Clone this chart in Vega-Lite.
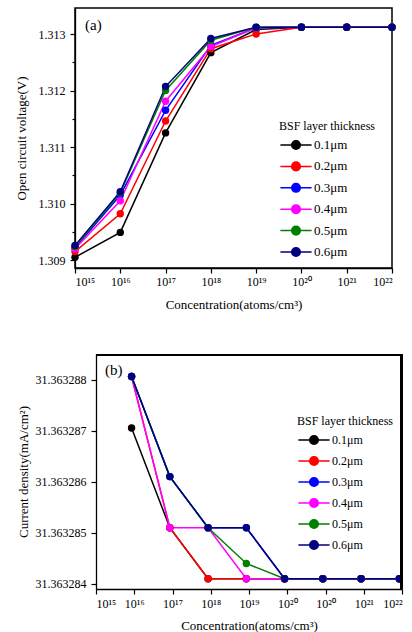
{
  "$schema": "https://vega.github.io/schema/vega-lite/v6.json",
  "padding": {"left": 14, "top": 7, "right": 0, "bottom": 0},
  "spacing": 41,
  "config": {
    "font": "Liberation Serif",
    "view": {"stroke": "#000000", "strokeWidth": 1.5},
    "axis": {
      "domainColor": "#000000", "domainWidth": 1.3,
      "tickColor": "#000000", "tickWidth": 1.2, "tickSize": 5,
      "labelFont": "Liberation Serif", "titleFont": "Liberation Serif",
      "labelColor": "#000000", "labelFontSize": 12, "labelPadding": 3,
      "titleColor": "#000000", "titleFontSize": 13, "titleFontWeight": "normal",
      "grid": false
    },
    "legend": {
      "labelFont": "Liberation Serif", "titleFont": "Liberation Serif",
      "titleFontSize": 12, "titleFontWeight": "normal", "titleColor": "#000000",
      "labelFontSize": 13, "labelColor": "#000000",
      "symbolType": "M-2.6,0H2.6M-0.72,0A0.72,0.72,0,1,1,0.72,0A0.72,0.72,0,1,1,-0.72,0Z",
      "symbolSize": 144, "symbolStrokeWidth": 1.5, "symbolOffset": 10,
      "rowPadding": 5, "labelOffset": 11, "titlePadding": 5
    },
    "title": {"font": "Liberation Serif", "fontSize": 15, "fontWeight": "normal", "color": "#000000", "anchor": "start", "frame": "group"}
  },
  "datasets": {
    "voc": [
      {"thickness": "0.1μm", "log_conc": 15, "voc": 1.30905},
      {"thickness": "0.1μm", "log_conc": 16, "voc": 1.30949},
      {"thickness": "0.1μm", "log_conc": 17, "voc": 1.31125},
      {"thickness": "0.1μm", "log_conc": 18, "voc": 1.31267},
      {"thickness": "0.1μm", "log_conc": 19, "voc": 1.31308},
      {"thickness": "0.1μm", "log_conc": 20, "voc": 1.31312},
      {"thickness": "0.1μm", "log_conc": 21, "voc": 1.31312},
      {"thickness": "0.1μm", "log_conc": 22, "voc": 1.31312},
      {"thickness": "0.2μm", "log_conc": 15, "voc": 1.30915},
      {"thickness": "0.2μm", "log_conc": 16, "voc": 1.30982},
      {"thickness": "0.2μm", "log_conc": 17, "voc": 1.31146},
      {"thickness": "0.2μm", "log_conc": 18, "voc": 1.31274},
      {"thickness": "0.2μm", "log_conc": 19, "voc": 1.31300},
      {"thickness": "0.2μm", "log_conc": 20, "voc": 1.31312},
      {"thickness": "0.2μm", "log_conc": 21, "voc": 1.31312},
      {"thickness": "0.2μm", "log_conc": 22, "voc": 1.31312},
      {"thickness": "0.3μm", "log_conc": 15, "voc": 1.30922},
      {"thickness": "0.3μm", "log_conc": 16, "voc": 1.31015},
      {"thickness": "0.3μm", "log_conc": 17, "voc": 1.31165},
      {"thickness": "0.3μm", "log_conc": 18, "voc": 1.31280},
      {"thickness": "0.3μm", "log_conc": 19, "voc": 1.31311},
      {"thickness": "0.3μm", "log_conc": 20, "voc": 1.31312},
      {"thickness": "0.3μm", "log_conc": 21, "voc": 1.31312},
      {"thickness": "0.3μm", "log_conc": 22, "voc": 1.31312},
      {"thickness": "0.4μm", "log_conc": 15, "voc": 1.30920},
      {"thickness": "0.4μm", "log_conc": 16, "voc": 1.31005},
      {"thickness": "0.4μm", "log_conc": 17, "voc": 1.31181},
      {"thickness": "0.4μm", "log_conc": 18, "voc": 1.31278},
      {"thickness": "0.4μm", "log_conc": 19, "voc": 1.31311},
      {"thickness": "0.4μm", "log_conc": 20, "voc": 1.31312},
      {"thickness": "0.4μm", "log_conc": 21, "voc": 1.31312},
      {"thickness": "0.4μm", "log_conc": 22, "voc": 1.31312},
      {"thickness": "0.5μm", "log_conc": 15, "voc": 1.30924},
      {"thickness": "0.5μm", "log_conc": 16, "voc": 1.31019},
      {"thickness": "0.5μm", "log_conc": 17, "voc": 1.31200},
      {"thickness": "0.5μm", "log_conc": 18, "voc": 1.31289},
      {"thickness": "0.5μm", "log_conc": 19, "voc": 1.31312},
      {"thickness": "0.5μm", "log_conc": 20, "voc": 1.31312},
      {"thickness": "0.5μm", "log_conc": 21, "voc": 1.31312},
      {"thickness": "0.5μm", "log_conc": 22, "voc": 1.31312},
      {"thickness": "0.6μm", "log_conc": 15, "voc": 1.30926},
      {"thickness": "0.6μm", "log_conc": 16, "voc": 1.31021},
      {"thickness": "0.6μm", "log_conc": 17, "voc": 1.31207},
      {"thickness": "0.6μm", "log_conc": 18, "voc": 1.31292},
      {"thickness": "0.6μm", "log_conc": 19, "voc": 1.31312},
      {"thickness": "0.6μm", "log_conc": 20, "voc": 1.31312},
      {"thickness": "0.6μm", "log_conc": 21, "voc": 1.31312},
      {"thickness": "0.6μm", "log_conc": 22, "voc": 1.31312}
    ],
    "jsc": [
      {"thickness": "0.1μm", "log_conc": 15.93, "jsc": 31.36328705},
      {"thickness": "0.1μm", "log_conc": 16.93, "jsc": 31.3632851},
      {"thickness": "0.1μm", "log_conc": 17.93, "jsc": 31.3632841},
      {"thickness": "0.1μm", "log_conc": 18.93, "jsc": 31.3632841},
      {"thickness": "0.1μm", "log_conc": 19.93, "jsc": 31.3632841},
      {"thickness": "0.1μm", "log_conc": 20.93, "jsc": 31.3632841},
      {"thickness": "0.1μm", "log_conc": 21.93, "jsc": 31.3632841},
      {"thickness": "0.1μm", "log_conc": 22.93, "jsc": 31.3632841},
      {"thickness": "0.2μm", "log_conc": 15.93, "jsc": 31.36328806},
      {"thickness": "0.2μm", "log_conc": 16.93, "jsc": 31.3632851},
      {"thickness": "0.2μm", "log_conc": 17.93, "jsc": 31.3632841},
      {"thickness": "0.2μm", "log_conc": 18.93, "jsc": 31.3632841},
      {"thickness": "0.2μm", "log_conc": 19.93, "jsc": 31.3632841},
      {"thickness": "0.2μm", "log_conc": 20.93, "jsc": 31.3632841},
      {"thickness": "0.2μm", "log_conc": 21.93, "jsc": 31.3632841},
      {"thickness": "0.2μm", "log_conc": 22.93, "jsc": 31.3632841},
      {"thickness": "0.3μm", "log_conc": 15.93, "jsc": 31.36328806},
      {"thickness": "0.3μm", "log_conc": 16.93, "jsc": 31.3632861},
      {"thickness": "0.3μm", "log_conc": 17.93, "jsc": 31.3632851},
      {"thickness": "0.3μm", "log_conc": 18.93, "jsc": 31.3632851},
      {"thickness": "0.3μm", "log_conc": 19.93, "jsc": 31.3632841},
      {"thickness": "0.3μm", "log_conc": 20.93, "jsc": 31.3632841},
      {"thickness": "0.3μm", "log_conc": 21.93, "jsc": 31.3632841},
      {"thickness": "0.3μm", "log_conc": 22.93, "jsc": 31.3632841},
      {"thickness": "0.4μm", "log_conc": 15.93, "jsc": 31.36328806},
      {"thickness": "0.4μm", "log_conc": 16.93, "jsc": 31.3632851},
      {"thickness": "0.4μm", "log_conc": 17.93, "jsc": 31.3632851},
      {"thickness": "0.4μm", "log_conc": 18.93, "jsc": 31.3632841},
      {"thickness": "0.4μm", "log_conc": 19.93, "jsc": 31.3632841},
      {"thickness": "0.4μm", "log_conc": 20.93, "jsc": 31.3632841},
      {"thickness": "0.4μm", "log_conc": 21.93, "jsc": 31.3632841},
      {"thickness": "0.4μm", "log_conc": 22.93, "jsc": 31.3632841},
      {"thickness": "0.5μm", "log_conc": 15.93, "jsc": 31.36328806},
      {"thickness": "0.5μm", "log_conc": 16.93, "jsc": 31.3632861},
      {"thickness": "0.5μm", "log_conc": 17.93, "jsc": 31.3632851},
      {"thickness": "0.5μm", "log_conc": 18.93, "jsc": 31.3632844},
      {"thickness": "0.5μm", "log_conc": 19.93, "jsc": 31.3632841},
      {"thickness": "0.5μm", "log_conc": 20.93, "jsc": 31.3632841},
      {"thickness": "0.5μm", "log_conc": 21.93, "jsc": 31.3632841},
      {"thickness": "0.5μm", "log_conc": 22.93, "jsc": 31.3632841},
      {"thickness": "0.6μm", "log_conc": 15.93, "jsc": 31.36328806},
      {"thickness": "0.6μm", "log_conc": 16.93, "jsc": 31.3632861},
      {"thickness": "0.6μm", "log_conc": 17.93, "jsc": 31.3632851},
      {"thickness": "0.6μm", "log_conc": 18.93, "jsc": 31.3632851},
      {"thickness": "0.6μm", "log_conc": 19.93, "jsc": 31.3632841},
      {"thickness": "0.6μm", "log_conc": 20.93, "jsc": 31.3632841},
      {"thickness": "0.6μm", "log_conc": 21.93, "jsc": 31.3632841},
      {"thickness": "0.6μm", "log_conc": 22.93, "jsc": 31.3632841}
    ]
  },
  "resolve": {"scale": {"color": "independent"}, "legend": {"color": "independent"}},
  "vconcat": [
    {
      "width": 317,
      "height": 260,
      "title": {"text": "(a)", "dx": 10, "offset": -25},
      "data": {"name": "voc"},
      "encoding": {
        "x": {
          "field": "log_conc", "type": "quantitative",
          "scale": {"domain": [15, 22], "nice": false, "zero": false},
          "axis": {
            "values": [15, 16, 17, 18, 19, 20, 21, 22],
            "labelExpr": "['10¹⁵','10¹⁶','10¹⁷','10¹⁸','10¹⁹','10²⁰','10²¹','10²²'][datum.value - 15]",
            "title": "Concentration(atoms/cm³)", "titlePadding": 11
          }
        },
        "y": {
          "field": "voc", "type": "quantitative",
          "scale": {"domain": [1.30886, 1.31346], "nice": false, "zero": false},
          "axis": {
            "values": [1.309, 1.3095, 1.31, 1.3105, 1.311, 1.3115, 1.312, 1.3125, 1.313],
            "labelExpr": "abs(datum.value * 1000 - round(datum.value * 1000)) < 0.1 ? format(datum.value, '.3f') : ''",
            "tickSize": {"condition": {"test": "abs(datum.value * 1000 - round(datum.value * 1000)) < 0.1", "value": 5}, "value": 3},
            "labelPadding": 5,
            "title": "Open circuit voltage(V)", "titlePadding": 10
          }
        },
        "color": {
          "field": "thickness", "type": "nominal",
          "scale": {"domain": ["0.1μm", "0.2μm", "0.3μm", "0.4μm", "0.5μm", "0.6μm"], "range": ["#000000", "#ff0000", "#0000ff", "#ff00ff", "#008000", "#000080"]},
          "legend": {
            "title": "BSF layer thickness", "orient": "none", "legendX": 204, "legendY": 113, "rowPadding": 5.4,
            "encode": {"symbols": {"update": {
              "fill": {"signal": "['#000000','#ff0000','#0000ff','#ff00ff','#008000','#000080'][indexof(['0.1μm','0.2μm','0.3μm','0.4μm','0.5μm','0.6μm'], datum.value)]"},
              "stroke": {"signal": "['#000000','#ff0000','#0000ff','#ff00ff','#008000','#000080'][indexof(['0.1μm','0.2μm','0.3μm','0.4μm','0.5μm','0.6μm'], datum.value)]"},
              "opacity": {"value": 1}
            }}}
          }
        }
      },
      "layer": [
        {"mark": {"type": "line", "strokeWidth": 1.5}},
        {"mark": {"type": "point", "filled": true, "size": 55, "opacity": 1, "strokeWidth": 1}}
      ]
    },
    {
      "width": 327,
      "height": 235,
      "view": {"stroke": null},
      "title": {"text": "(b)", "dx": 30, "offset": -25},
      "data": {"name": "jsc"},
      "layer": [
        {
          "mark": {"type": "line", "strokeWidth": 1.5},
          "encoding": {
            "x": {
              "field": "log_conc", "type": "quantitative",
              "scale": {"domain": [15, 23], "range": [21, 327], "nice": false, "zero": false},
              "axis": {
                "orient": "bottom",
                "values": [15, 16, 17, 18, 19, 20, 21, 22, 23],
                "labelExpr": "['10¹⁵','10¹⁶','10¹⁷','10¹⁸','10¹⁹','10²⁰','10²⁰','10²¹','10²²'][datum.value - 15]",
                "labelPadding": 4,
                "title": "Concentration(atoms/cm³)", "titlePadding": 10
              }
            },
            "y": {
              "field": "jsc", "type": "quantitative",
              "scale": {"domain": [31.3632839, 31.3632885], "nice": false, "zero": false},
              "axis": {
                "orient": "left", "offset": -21,
                "values": [31.363284, 31.3632845, 31.363285, 31.3632855, 31.363286, 31.3632865, 31.363287, 31.3632875, 31.363288],
                "labelExpr": "abs(datum.value * 1e6 - round(datum.value * 1e6)) < 0.1 ? format(datum.value, '.6f') : ''",
                "tickSize": {"condition": {"test": "abs(datum.value * 1e6 - round(datum.value * 1e6)) < 0.1", "value": 5}, "value": 3},
                "labelPadding": 5,
                "title": "Current density(mA/cm²)", "titlePadding": 5
              }
            },
            "color": {
              "field": "thickness", "type": "nominal",
              "scale": {"domain": ["0.1μm", "0.2μm", "0.3μm", "0.4μm", "0.5μm", "0.6μm"], "range": ["#000000", "#ff0000", "#0000ff", "#ff00ff", "#008000", "#000080"]},
              "legend": {
                "title": "BSF layer thickness", "orient": "none", "legendX": 222, "legendY": 62,
                "labelFontSize": 12, "rowPadding": 5,
                "encode": {"symbols": {"update": {
                  "fill": {"signal": "['#000000','#ff0000','#0000ff','#ff00ff','#008000','#000080'][indexof(['0.1μm','0.2μm','0.3μm','0.4μm','0.5μm','0.6μm'], datum.value)]"},
                  "stroke": {"signal": "['#000000','#ff0000','#0000ff','#ff00ff','#008000','#000080'][indexof(['0.1μm','0.2μm','0.3μm','0.4μm','0.5μm','0.6μm'], datum.value)]"},
                  "opacity": {"value": 1}
                }}}
              }
            }
          }
        },
        {
          "mark": {"type": "point", "filled": true, "size": 55, "opacity": 1, "strokeWidth": 1},
          "encoding": {
            "x": {"field": "log_conc", "type": "quantitative"},
            "y": {"field": "jsc", "type": "quantitative"},
            "color": {"field": "thickness", "type": "nominal"}
          }
        },
        {
          "mark": {"type": "rule", "stroke": "#000000", "strokeWidth": 1.6, "clip": false},
          "encoding": {
            "x": {"datum": 22.985, "type": "quantitative"},
            "y": {"datum": 31.3632839, "type": "quantitative"},
            "y2": {"datum": 31.3632885}
          }
        },
        {
          "mark": {"type": "rule", "stroke": "#000000", "strokeWidth": 1.6, "clip": false},
          "encoding": {
            "x": {"datum": 15, "type": "quantitative"},
            "x2": {"datum": 23},
            "y": {"datum": 31.36328848, "type": "quantitative"}
          }
        }
      ]
    }
  ]
}
